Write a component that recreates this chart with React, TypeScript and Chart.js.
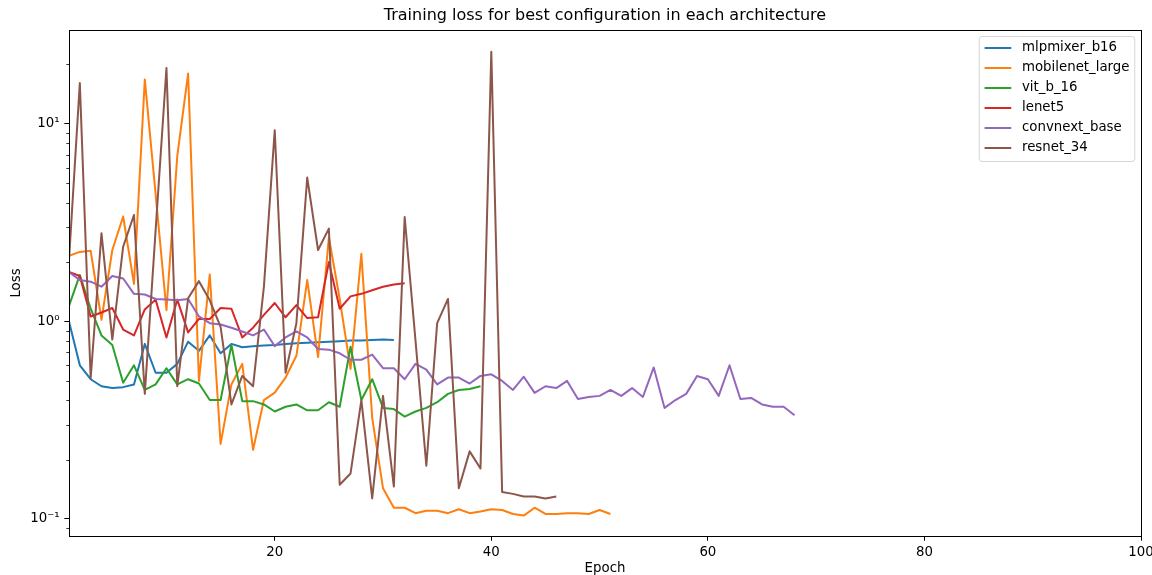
import React, { useEffect, useRef } from "react";
import { Chart, registerables } from "chart.js";

Chart.register(...registerables);

const FONT = "'DejaVu Sans', 'Liberation Sans', sans-serif";

const chartTitle = "Training loss for best configuration in each architecture";
const xAxisTitle = "Epoch";
const yAxisTitle = "Loss";

const seriesNames = [
  "mlpmixer_b16",
  "mobilenet_large",
  "vit_b_16",
  "lenet5",
  "convnext_base",
  "resnet_34",
];
const seriesColors = ["#1f77b4", "#ff7f0e", "#2ca02c", "#d62728", "#9467bd", "#8c564b"];

// Loss per epoch (epoch 1, 2, 3, ...)
const mlpmixerLoss = [
  1.0, 0.6, 0.51, 0.47, 0.46, 0.465, 0.48, 0.77, 0.55, 0.55, 0.61, 0.79, 0.71, 0.85, 0.69, 0.77,
  0.74, 0.75, 0.755, 0.76, 0.77, 0.775, 0.78, 0.785, 0.79, 0.795, 0.8, 0.8, 0.805, 0.81, 0.805,
];
const mobilenetLoss = [
  2.15, 2.25, 2.28, 1.02, 2.3, 3.4, 1.55, 16.8, 4.4, 1.14, 6.9, 18.0, 0.5, 1.73, 0.24, 0.48, 0.61,
  0.224, 0.4, 0.436, 0.52, 0.67, 1.62, 0.66, 2.67, 1.3, 0.575, 2.2, 0.325, 0.143, 0.114, 0.114,
  0.107, 0.11, 0.11, 0.107, 0.112, 0.107, 0.109, 0.112, 0.111, 0.106, 0.104, 0.114, 0.106, 0.106,
  0.107, 0.107, 0.106, 0.111, 0.106,
];
const vitLoss = [
  1.2, 1.72, 1.16, 0.85, 0.76, 0.49, 0.6, 0.45, 0.48, 0.58, 0.48, 0.51, 0.485, 0.4, 0.4, 0.76, 0.395,
  0.395, 0.38, 0.35, 0.37, 0.38, 0.355, 0.355, 0.39, 0.37, 0.745, 0.4, 0.51, 0.365, 0.36, 0.33,
  0.35, 0.365, 0.39, 0.43, 0.45, 0.455, 0.47,
];
const lenetLoss = [
  1.78, 1.7, 1.06, 1.11, 1.17, 0.91, 0.85, 1.15, 1.29, 0.83, 1.29, 0.88, 1.03, 1.03, 1.17, 1.16,
  0.83, 0.93, 1.08, 1.24, 1.05, 1.21, 1.04, 1.05, 2.0, 1.16, 1.34, 1.38, 1.44, 1.5, 1.54, 1.56,
];
const convnextLoss = [
  1.78, 1.62, 1.59, 1.5, 1.7, 1.65, 1.38, 1.37, 1.3, 1.29, 1.28, 1.3, 1.06, 0.98, 0.965, 0.93, 0.89,
  0.85, 0.91, 0.75, 0.83, 0.89, 0.83, 0.725, 0.72, 0.69, 0.64, 0.64, 0.68, 0.58, 0.58, 0.51, 0.61,
  0.57, 0.48, 0.52, 0.52, 0.485, 0.53, 0.54, 0.5, 0.45, 0.525, 0.435, 0.47, 0.46, 0.5, 0.405, 0.415,
  0.42, 0.45, 0.42, 0.46, 0.415, 0.585, 0.365, 0.4, 0.43, 0.53, 0.51, 0.42, 0.6, 0.405, 0.41, 0.38,
  0.37, 0.37, 0.335,
];
const resnetLoss = [
  2.05, 16.1, 0.515, 2.8, 0.81, 2.39, 3.46, 0.43, 2.9, 19.2, 0.47, 1.31, 1.6, 1.28, 0.94, 0.38, 0.53,
  0.47, 1.5, 9.3, 0.55, 0.98, 5.35, 2.3, 2.95, 0.149, 0.17, 0.4, 0.127, 0.42, 0.146, 3.38, 0.8,
  0.186, 0.98, 1.3, 0.143, 0.22, 0.18, 23.2, 0.137, 0.134, 0.13, 0.13, 0.127, 0.13,
];

const seriesValues = [mlpmixerLoss, mobilenetLoss, vitLoss, lenetLoss, convnextLoss, resnetLoss];

const xMin = 1;
const xMax = 100;
const yMin = 0.082;
const yMax = 29.9;
const xTickValues = [20, 40, 60, 80, 100];
const yTickValues = [0.1, 1, 10];
const yTickLabels = ["10\u207B\u00B9", "10\u2070", "10\u00B9"];

const TICK_FS = 13.33;
const MAJOR_LEN = 4.67;
const MINOR_LEN = 2.67;

const framePlugin = {
  id: "frameAndMinor",
  afterDatasetsDraw(chart: any) {
    const { ctx, chartArea: ca } = chart;
    const ys = chart.scales.y;
    ctx.save();
    // minor ticks on log axis
    ctx.strokeStyle = "#000";
    ctx.lineWidth = 0.8;
    for (let k = -2; k <= 1; k++) {
      for (let m = 2; m <= 9; m++) {
        const v = m * Math.pow(10, k);
        if (v < ys.min || v > ys.max) continue;
        const py = Math.round(ys.getPixelForValue(v)) + 0.5;
        ctx.beginPath();
        ctx.moveTo(ca.left - MINOR_LEN, py);
        ctx.lineTo(ca.left, py);
        ctx.stroke();
      }
    }
    // frame
    ctx.lineWidth = 1;
    ctx.strokeRect(Math.round(ca.left) + 0.5, Math.round(ca.top) + 0.5, Math.round(ca.right - ca.left), Math.round(ca.bottom - ca.top));
    ctx.restore();
  },
  afterDraw(chart: any) {
    const { ctx, chartArea: ca } = chart;
    const ds = chart.data.datasets;
    ctx.save();
    ctx.font = `${TICK_FS}px ${FONT}`;
    let maxW = 0;
    ds.forEach((d: any) => {
      maxW = Math.max(maxW, ctx.measureText(d.label).width);
    });
    const pad = 5.3;
    const handleLen = 26.7;
    const handleGap = 10.7;
    const rowH = 20;
    const w = pad + handleLen + handleGap + maxW + pad;
    const right = ca.right - 6.2;
    const left = right - w;
    const top = ca.top + 6.5;
    const h = 125;
    // box
    const r = 2.7;
    ctx.beginPath();
    ctx.moveTo(left + r, top);
    ctx.lineTo(left + w - r, top);
    ctx.arcTo(left + w, top, left + w, top + r, r);
    ctx.lineTo(left + w, top + h - r);
    ctx.arcTo(left + w, top + h, left + w - r, top + h, r);
    ctx.lineTo(left + r, top + h);
    ctx.arcTo(left, top + h, left, top + h - r, r);
    ctx.lineTo(left, top + r);
    ctx.arcTo(left, top, left + r, top, r);
    ctx.closePath();
    ctx.fillStyle = "rgba(255,255,255,0.8)";
    ctx.fill();
    ctx.strokeStyle = "rgba(204,204,204,0.8)";
    ctx.lineWidth = 1;
    ctx.stroke();
    ds.forEach((d: any, i: number) => {
      const cy = top + 11.5 + i * rowH;
      ctx.strokeStyle = d.borderColor;
      ctx.lineWidth = 2;
      ctx.beginPath();
      ctx.moveTo(left + pad, cy);
      ctx.lineTo(left + pad + handleLen, cy);
      ctx.stroke();
      ctx.fillStyle = "#000";
      ctx.textBaseline = "middle";
      ctx.textAlign = "left";
      ctx.fillText(d.label, left + pad + handleLen + handleGap, cy);
    });
    ctx.restore();
  },
};

export default function App() {
  const canvasRef = useRef<HTMLCanvasElement | null>(null);

  useEffect(() => {
    document.body.style.margin = "0";
    const canvas = canvasRef.current;
    if (!canvas) return;
    const n = seriesValues.length;
    const chart = new Chart(canvas, {
      type: "line",
      data: {
        datasets: seriesValues.map((vals, i) => ({
          label: seriesNames[i],
          data: vals.map((v, j) => ({ x: j + 1, y: v })),
          borderColor: seriesColors[i],
          backgroundColor: seriesColors[i],
          borderWidth: 2,
          pointRadius: 0,
          pointHoverRadius: 0,
          tension: 0,
          fill: false,
          borderJoinStyle: "round",
          order: n - i,
        })),
      },
      options: {
        responsive: false,
        animation: false,
        devicePixelRatio: 1,
        events: [],
        layout: { padding: { left: 0, right: 11, top: 0, bottom: 0 } },
        plugins: {
          legend: { display: false },
          tooltip: { enabled: false },
          title: {
            display: true,
            text: chartTitle,
            color: "#000",
            fullSize: false,
            font: { family: FONT, size: 16, weight: "normal", lineHeight: 1.2 },
            padding: { top: 6.5, bottom: 4.3 },
          },
        },
        scales: {
          x: {
            type: "linear",
            min: xMin,
            max: xMax,
            afterBuildTicks: (s: any) => {
              s.ticks = xTickValues.map((v) => ({ value: v }));
            },
            afterFit: (s: any) => {
              s.height = 39;
              s.paddingLeft = 0;
              s.paddingRight = 0;
            },
            ticks: {
              color: "#000",
              font: { family: FONT, size: TICK_FS },
              padding: 3.5,
              maxRotation: 0,
              autoSkip: false,
              callback: (v: any) => String(v),
            },
            grid: {
              display: true,
              drawOnChartArea: false,
              drawTicks: true,
              tickLength: MAJOR_LEN,
              tickColor: "#000",
              tickWidth: 1,
            },
            border: { display: true, color: "#000", width: 1 },
            title: {
              display: true,
              text: xAxisTitle,
              color: "#000",
              font: { family: FONT, size: TICK_FS, lineHeight: 1 },
              padding: { top: 0, bottom: 0 },
            },
          },
          y: {
            type: "logarithmic",
            min: yMin,
            max: yMax,
            afterBuildTicks: (s: any) => {
              s.ticks = yTickValues.map((v) => ({ value: v, major: true }));
            },
            afterFit: (s: any) => {
              s.width = 69;
              s.paddingTop = 0;
              s.paddingBottom = 0;
            },
            ticks: {
              color: "#000",
              font: { family: FONT, size: TICK_FS },
              padding: 4.67,
              autoSkip: false,
              callback: (v: any) => {
                const idx = yTickValues.findIndex((t) => Math.abs(t - Number(v)) < 1e-9);
                return idx >= 0 ? yTickLabels[idx] : "";
              },
            },
            grid: {
              display: true,
              drawOnChartArea: false,
              drawTicks: true,
              tickLength: MAJOR_LEN,
              tickColor: "#000",
              tickWidth: 1,
            },
            border: { display: true, color: "#000", width: 1 },
            title: {
              display: true,
              text: yAxisTitle,
              color: "#000",
              font: { family: FONT, size: TICK_FS, lineHeight: 1 },
              padding: { top: 9.8, bottom: 0 },
            },
          },
        },
      },
      plugins: [framePlugin],
    } as any);
    return () => {
      chart.destroy();
    };
  }, []);

  return (
    <div style={{ width: 1152, height: 575, overflow: "hidden" }}>
      <canvas ref={canvasRef} width={1152} height={575} style={{ display: "block" }} />
    </div>
  );
}
